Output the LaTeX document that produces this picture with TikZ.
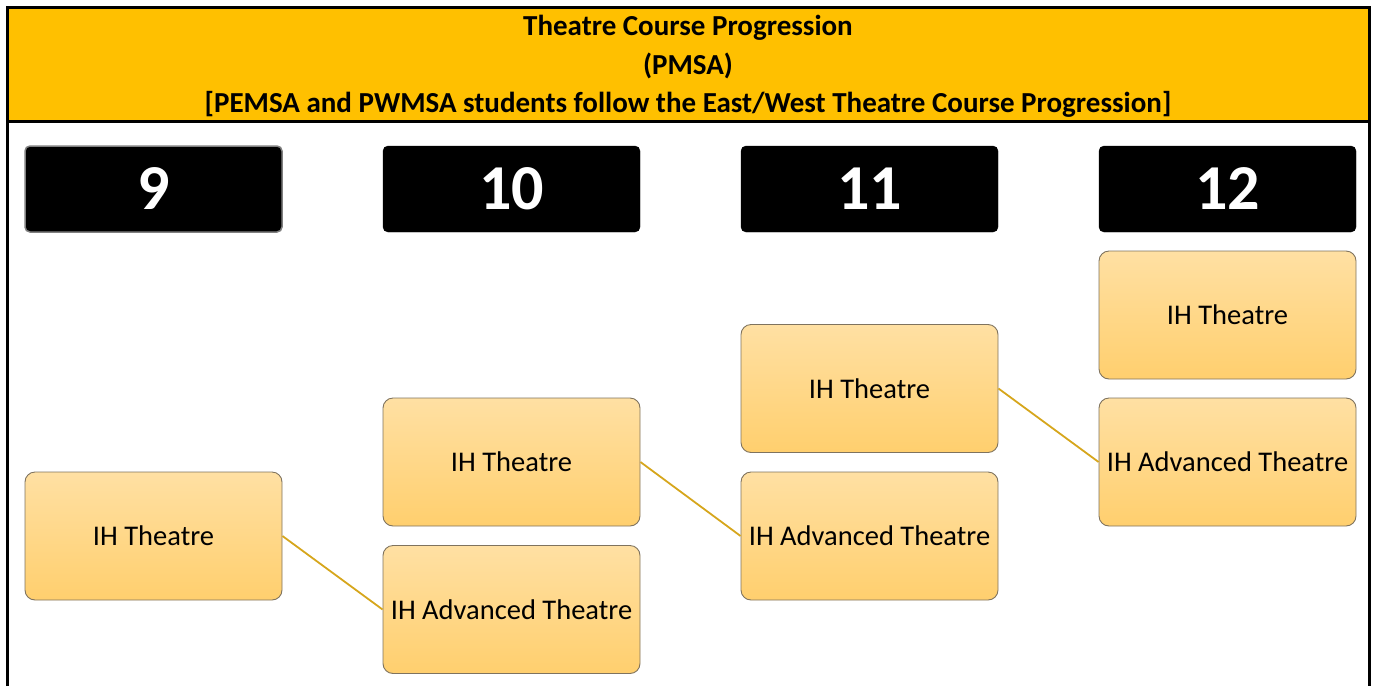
\documentclass[tikz,border=0pt]{standalone}
\usepackage{fontspec}
\setmainfont{Carlito}
\usepackage{xcolor}
\definecolor{headgold}{HTML}{FFC000}
\definecolor{linkgold}{HTML}{D6A61C}
\definecolor{boxtop}{HTML}{FFE0A3}
\definecolor{boxbot}{HTML}{FFCF6E}
\definecolor{boxedge}{HTML}{7F735E}

\begin{document}
\begin{tikzpicture}[x=1pt,y=-1pt,
    year/.style={fill=black,draw=black,rounded corners=5pt,minimum width=257pt,minimum height=86pt,
        text=white,font=\fontsize{64}{64}\selectfont\bfseries,inner sep=0pt},
    course/.style={draw=boxedge,line width=0.9pt,rounded corners=10pt,top color=boxtop,bottom color=boxbot,
        minimum width=257pt,minimum height=128pt,font=\fontsize{28.5}{28.5}\selectfont,inner sep=0pt},
    link/.style={draw=linkgold,line width=1.8pt}]
    \useasboundingbox (0,0) rectangle (1374,686);

    % Header
    \fill [headgold] (7,7) rectangle (1369,121);
    \draw [line width=3pt] (7,686) to (7,7) to (1369,7) to (1369,686);
    \draw [line width=3pt] (7,121) to (1369,121);
    \node (title) at (688,28) {\fontsize{29}{29}\selectfont\bfseries Theatre Course Progression};
    \node (school) at (688,66) {\fontsize{29}{29}\selectfont\bfseries (PMSA)};
    \node (note) at (688,104) {\fontsize{29}{29}\selectfont\bfseries [PEMSA and PWMSA students follow the East/West Theatre Course Progression]};

    % Grade labels
    \node [year,draw=gray,line width=1.5pt] (g9) at (153.5,189) {9};
    \node [year] (g10) at (511.5,189) {10};
    \node [year] (g11) at (869.5,189) {11};
    \node [year] (g12) at (1227.5,189) {12};

    % Courses
    \node [course] (th9) at (153.5,536) {IH Theatre};
    \node [course] (th10) at (511.5,462) {IH Theatre};
    \node [course] (adv10) at (511.5,609.5) {IH Advanced Theatre};
    \node [course] (th11) at (869.5,388.5) {IH Theatre};
    \node [course] (adv11) at (869.5,536) {IH Advanced Theatre};
    \node [course] (th12) at (1227.5,315) {IH Theatre};
    \node [course] (adv12) at (1227.5,462) {IH Advanced Theatre};

    % Progression lines
    \draw [link] (th9.east) to (adv10.west);
    \draw [link] (th10.east) to (adv11.west);
    \draw [link] (th11.east) to (adv12.west);
\end{tikzpicture}
\end{document}
